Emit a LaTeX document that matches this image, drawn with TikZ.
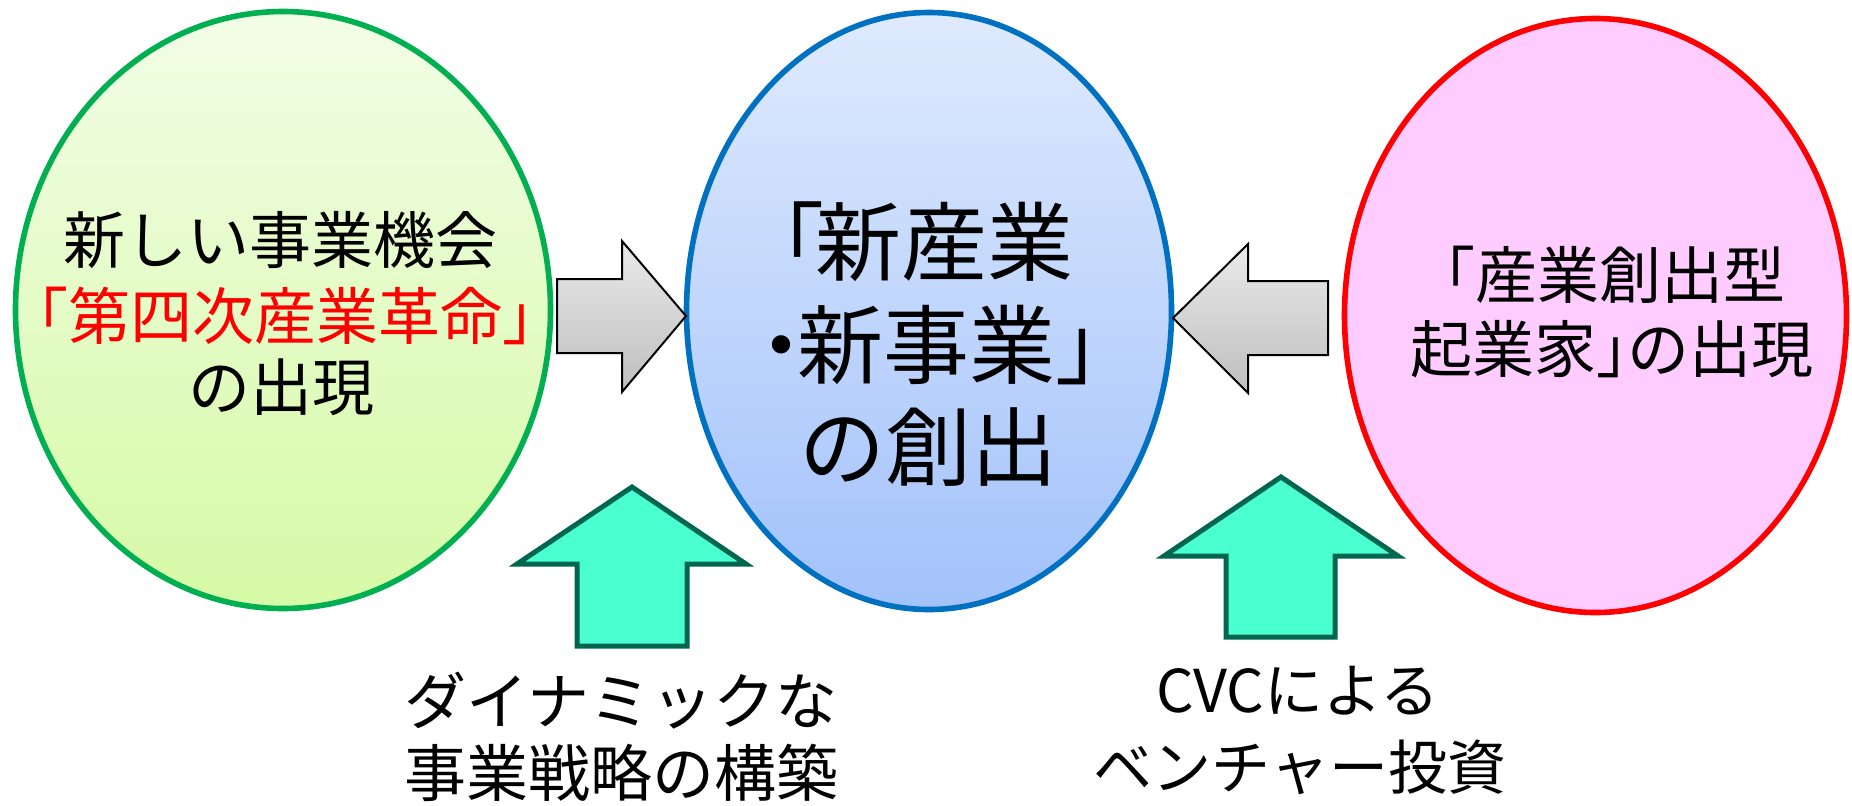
\documentclass[tikz,border=0pt]{standalone}
\usepackage{fontspec}
\setmainfont{Noto Sans CJK JP}
\usetikzlibrary{shapes.geometric}
\definecolor{lgreenT}{HTML}{F2FDE6}
\definecolor{lgreenB}{HTML}{D6FAA6}
\definecolor{gborder}{HTML}{00B050}
\definecolor{lblueT}{HTML}{DFEAFD}
\definecolor{lblueB}{HTML}{A2C2FB}
\definecolor{bborder}{HTML}{0070C0}
\definecolor{pinkfill}{HTML}{FFCCFF}
\definecolor{grayT}{HTML}{EAEAEA}
\definecolor{grayB}{HTML}{BEBEBE}
\definecolor{aqua}{HTML}{4AFFD0}
\definecolor{aquaborder}{HTML}{006650}
\tikzset{
  bubble/.style={ellipse, inner sep=0pt, line width=2.8pt},
  grayarrow/.style={draw=black, line width=1pt, top color=grayT, bottom color=grayB, line join=miter},
  uparrow/.style={draw=aquaborder, fill=aqua, line width=2.5pt, line join=miter},
  txtM/.style={inner sep=0pt, font=\fontsize{31}{37}\selectfont, text height=25.7pt, text depth=2.1pt},
  txtL/.style={inner sep=0pt, font=\fontsize{43}{52}\selectfont, text height=35.7pt, text depth=3pt},
  txtR/.style={inner sep=0pt, font=\fontsize{31}{37}\selectfont, text height=25.7pt, text depth=2.1pt},
  txtS/.style={inner sep=0pt, font=\fontsize{29.5}{36}\selectfont, text height=24.5pt, text depth=2pt}
}
\begin{document}
\begin{tikzpicture}[x=0.5pt,y=-0.5pt]
\useasboundingbox (0,0) rectangle (1852,805);
\fill[white] (0,0) rectangle (1852,805);

% ellipses
\node[bubble, draw=gborder, top color=lgreenT, bottom color=lgreenB,
      minimum width=267.5pt, minimum height=298.5pt] (L) at (283,310) {};
\node[bubble, draw=bborder, top color=lblueT, bottom color=lblueB,
      minimum width=242.5pt, minimum height=298.5pt] (M) at (929,311) {};
\node[bubble, draw=red, fill=pinkfill,
      minimum width=251pt, minimum height=297pt] (R) at (1595.5,315.5) {};

% gray block arrows
\path[grayarrow] (557,279) -- (622,279) -- (622,241) -- (686,316) -- (622,392) -- (622,353) -- (557,353) -- cycle;
\path[grayarrow] (1173,318) -- (1248,244) -- (1248,281) -- (1328,281) -- (1328,355) -- (1248,355) -- (1248,393) -- cycle;

% up arrows
\path[uparrow] (632,487) -- (746,564) -- (687,564) -- (687,646) -- (577,646) -- (577,564) -- (517,564) -- cycle;
\path[uparrow] (1281,477) -- (1398,556) -- (1335,556) -- (1335,637) -- (1226,637) -- (1226,556) -- (1164,556) -- cycle;

% texts left
\node[txtM] (lt1) at (280,240) {新しい事業機会};
\node[txtM, text=red] (lt2) at (285,316) {「第四次産業革命」};
\node[txtM] (lt3) at (281,387) {の出現};

% texts middle
\node[txtL] (mt1) at (906,242) {「\kern-0.1em新産業};
\node[txtL] (mt2) at (940,345) {・\kern-0.32em新事業」};
\node[txtL] (mt3) at (928,447) {の創出};

% texts right
\node[txtR] (rt1) at (1599,275) {「産業創出型};
\node[txtR] (rt2) at (1612,349) {起業家」\kern-0.5emの出現};

% bottom labels
\node[txtM] (bl1) at (621,701) {ダイナミックな};
\node[txtM] (bl2) at (621,773) {事業戦略の構築};
\node[txtS] (br1) at (1298,690) {CVCによる};
\node[txtS] (br2) at (1300,767) {ベンチャー投資};
\end{tikzpicture}
\end{document}
